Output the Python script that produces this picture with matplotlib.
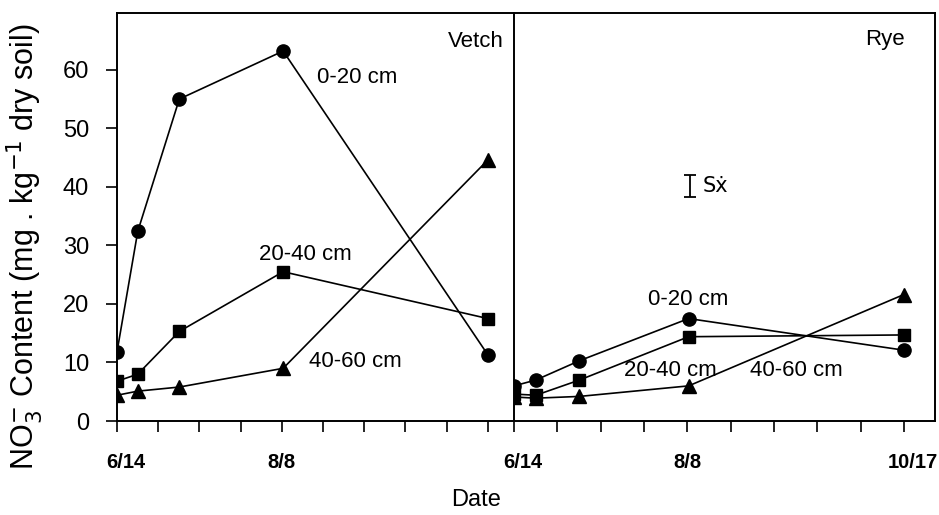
import numpy as np
import matplotlib.pyplot as plt
import matplotlib.transforms as mtransforms

# days after 6/14
vetch_days = [0, 7, 21, 56, 125]
rye_days = [0, 7, 21, 56, 125]

vetch_0_20 = [11.8, 32.4, 55.0, 63.2, 11.3]
vetch_20_40 = [6.8, 8.0, 15.3, 25.5, 17.5]
vetch_40_60 = [4.4, 5.1, 5.8, 9.0, 44.6]

rye_0_20 = [6.0, 7.0, 10.3, 17.5, 12.1]
rye_20_40 = [4.6, 4.4, 7.0, 14.4, 14.7]
rye_40_60 = [4.1, 3.9, 4.2, 6.0, 21.6]

tick_days = np.linspace(0, 125, 10)
tick_labels = ['6/14', '', '', '', '8/8', '', '', '', '', '10/17']

plt.rcParams['font.family'] = ['Liberation Sans', 'DejaVu Sans']

fig = plt.figure(figsize=(9.39, 5.15), dpi=100)
x0, x1, x2 = 117 / 939, 514 / 939, 935 / 939
y0, y1 = 1 - 421 / 515, 1 - 13 / 515
ax1 = fig.add_axes([x0, y0, x1 - x0, y1 - y0])
ax2 = fig.add_axes([x1, y0, x2 - x1, y1 - y0])

mk = dict(color='black', linewidth=1.2)

ax1.plot(vetch_days, vetch_0_20, marker='o', markersize=9.5, **mk)
ax1.plot(vetch_days, vetch_20_40, marker='s', markersize=8.5, **mk)
ax1.plot(vetch_days, vetch_40_60, marker='^', markersize=9.5, **mk)

ax2.plot(rye_days, rye_0_20, marker='o', markersize=9.5, **mk)
ax2.plot(rye_days, rye_20_40, marker='s', markersize=8.5, **mk)
ax2.plot(rye_days, rye_40_60, marker='^', markersize=9.5, **mk)

# standard error bar
ax2.errorbar([56.5], [40.1], yerr=[1.9], fmt='none', ecolor='black',
             elinewidth=1.3, capsize=4, capthick=1.3)
ax2.text(60.5, 40.1, 'Sẋ', fontsize=15, va='center', ha='left',
         family=['DejaVu Sans'])

lab = dict(fontsize=16, ha='center', va='center')
ax1.text(81, 58.6, '0-20 cm', **lab)
ax1.text(63.5, 28.5, '20-40 cm', **lab)
ax1.text(80.5, 10.1, '40-60 cm', **lab)
ax1.text(121, 64.8, 'Vetch', **lab)

ax2.text(56, 20.7, '0-20 cm', **lab)
ax2.text(50, 8.6, '20-40 cm', **lab)
ax2.text(90.5, 8.6, '40-60 cm', **lab)
ax2.text(119, 65.1, 'Rye', **lab)

ax1.set_xlim(0, 133.8)
ax2.set_xlim(0, 135)
for ax in (ax1, ax2):
    ax.set_ylim(0, 69.7)
    ax.set_xticks(tick_days)
    ax.tick_params(axis='x', direction='out', length=8, width=1.2, pad=15)
    for s in ax.spines.values():
        s.set_linewidth(1.4)

ax1.set_xticklabels(tick_labels[:5] + [''] * 5, fontsize=14.5, fontweight='bold')
ax2.set_xticklabels(tick_labels, fontsize=14.5, fontweight='bold')

# nudge the 6/14 and 10/17 labels a bit right, as in the original
shift = mtransforms.ScaledTranslation(9 / 100, 0, fig.dpi_scale_trans)
for ax in (ax1, ax2):
    for t in ax.get_xticklabels():
        if t.get_text() in ('6/14', '10/17'):
            t.set_transform(t.get_transform() + shift)

ax1.set_yticks([0, 10, 20, 30, 40, 50, 60])
ax1.tick_params(axis='y', direction='out', length=8, width=1.2, labelsize=17, pad=12)
ax2.set_yticks([])
ax1.spines['right'].set_visible(False)

fig.text(25 / 939, 1 - 247 / 515, r'NO$_3^{-}$ Content (mg . kg$^{-1}$ dry soil)',
         fontsize=22, rotation=90, ha='center', va='center')
fig.text(476 / 939, 1 - 500 / 515, 'Date', fontsize=17, ha='center', va='center')

fig.savefig('out.png', dpi=100)
